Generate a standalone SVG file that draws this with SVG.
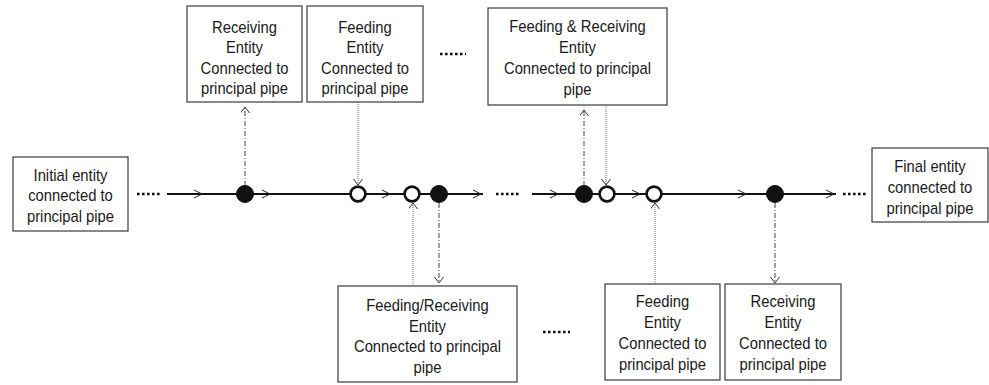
<svg xmlns="http://www.w3.org/2000/svg" width="989" height="385" viewBox="0 0 989 385">
<defs>
<style>
.box{fill:#fff;stroke:#3a3a3a;stroke-width:1.2}
.t{font-family:"Liberation Sans",Arial,sans-serif;font-size:17px;fill:#1a1a1a;text-anchor:middle;transform-box:fill-box;transform-origin:center;transform:scaleX(0.87)}
.pipe{stroke:#111;stroke-width:2.2;fill:none}
.chev{stroke:#222;stroke-width:1;fill:none}
.dots{stroke:#111;stroke-width:2.6;stroke-dasharray:2.6 2.4;fill:none}
.full{fill:#111;stroke:#111;stroke-width:1}
.open{fill:#fff;stroke:#111;stroke-width:2.6}
.rcv{stroke:#444;stroke-width:1;stroke-dasharray:5 2 1 2;fill:none;marker-end:url(#ah)}
.fed{stroke:#777;stroke-width:1;stroke-dasharray:1 1;fill:none;marker-end:url(#ah)}
</style>
<marker id="ah" markerWidth="10" markerHeight="10" refX="6" refY="4.5" orient="auto" markerUnits="userSpaceOnUse">
<path d="M0,0 L6,4.5 L0,9" fill="none" stroke="#333" stroke-width="1"/>
</marker>
</defs>

<g id="connectors">
<line class="rcv" x1="245" y1="186" x2="245" y2="107"/>
<line class="fed" x1="358" y1="102" x2="358" y2="185"/>
<line class="rcv" x1="584" y1="186" x2="584" y2="110"/>
<line class="fed" x1="606" y1="105" x2="606" y2="185"/>
<line class="fed" x1="413" y1="286" x2="413" y2="203"/>
<line class="rcv" x1="439" y1="203" x2="439" y2="283"/>
<line class="fed" x1="655" y1="284" x2="655" y2="203"/>
<line class="rcv" x1="775" y1="203" x2="775" y2="283"/>
</g>

<g id="pipe">
<line class="dots" x1="137" y1="194" x2="161" y2="194"/>
<line class="pipe" x1="167" y1="194" x2="483" y2="194"/>
<line class="dots" x1="496" y1="194" x2="520" y2="194"/>
<line class="pipe" x1="532" y1="194" x2="836" y2="194"/>
<line class="dots" x1="843" y1="194" x2="867" y2="194"/>
<path class="chev" d="M194,190 L202,194 L194,198 M262,190 L270,194 L262,198 M382,190 L390,194 L382,198 M473,190 L481,194 L473,198 M550,190 L558,194 L550,198 M632,190 L640,194 L632,198 M738,190 L746,194 L738,198 M826,190 L834,194 L826,198"/>
<line class="dots" x1="440" y1="54" x2="466" y2="54"/>
<line class="dots" x1="543" y1="332" x2="570" y2="332"/>
</g>

<g id="junctions">
<circle class="full" cx="245" cy="194" r="8.5"/>
<circle class="open" cx="358" cy="194" r="7.4"/>
<circle class="open" cx="412" cy="194" r="7.4"/>
<circle class="full" cx="439" cy="194" r="8.5"/>
<circle class="full" cx="584" cy="194" r="8.5"/>
<circle class="open" cx="607" cy="194" r="7.4"/>
<circle class="open" cx="654" cy="194" r="7.4"/>
<circle class="full" cx="775" cy="194" r="8.5"/>
</g>

<g id="initial">
<rect class="box" x="13" y="157" width="115" height="74"/>
<text class="t" x="70.5" y="181">Initial entity</text>
<text class="t" x="70.5" y="201.5">connected to</text>
<text class="t" x="70.5" y="222">principal pipe</text>
</g>

<g id="final">
<rect class="box" x="872" y="148" width="116" height="74"/>
<text class="t" x="930" y="172">Final entity</text>
<text class="t" x="930" y="193">connected to</text>
<text class="t" x="930" y="214">principal pipe</text>
</g>

<g id="top-receiving">
<rect class="box" x="187" y="6" width="115" height="96"/>
<text class="t" x="244.5" y="33">Receiving</text>
<text class="t" x="244.5" y="53.5">Entity</text>
<text class="t" x="244.5" y="74">Connected to</text>
<text class="t" x="244.5" y="94.5">principal pipe</text>
</g>

<g id="top-feeding">
<rect class="box" x="307" y="6" width="116" height="96"/>
<text class="t" x="365" y="33">Feeding</text>
<text class="t" x="365" y="53.5">Entity</text>
<text class="t" x="365" y="74">Connected to</text>
<text class="t" x="365" y="94.5">principal pipe</text>
</g>

<g id="top-feeding-receiving">
<rect class="box" x="488" y="8" width="179" height="97"/>
<text class="t" x="577.5" y="32">Feeding &amp; Receiving</text>
<text class="t" x="577.5" y="53">Entity</text>
<text class="t" x="577.5" y="74">Connected to principal</text>
<text class="t" x="577.5" y="95">pipe</text>
</g>

<g id="bottom-feeding-receiving">
<rect class="box" x="338" y="286" width="179" height="96"/>
<text class="t" x="427.5" y="311">Feeding/Receiving</text>
<text class="t" x="427.5" y="332">Entity</text>
<text class="t" x="427.5" y="352.5">Connected to principal</text>
<text class="t" x="427.5" y="373">pipe</text>
</g>

<g id="bottom-feeding">
<rect class="box" x="605" y="284" width="115" height="96"/>
<text class="t" x="662.5" y="307">Feeding</text>
<text class="t" x="662.5" y="328">Entity</text>
<text class="t" x="662.5" y="349">Connected to</text>
<text class="t" x="662.5" y="370">principal pipe</text>
</g>

<g id="bottom-receiving">
<rect class="box" x="725" y="284" width="116" height="96"/>
<text class="t" x="783" y="307">Receiving</text>
<text class="t" x="783" y="328">Entity</text>
<text class="t" x="783" y="349">Connected to</text>
<text class="t" x="783" y="370">principal pipe</text>
</g>
</svg>
